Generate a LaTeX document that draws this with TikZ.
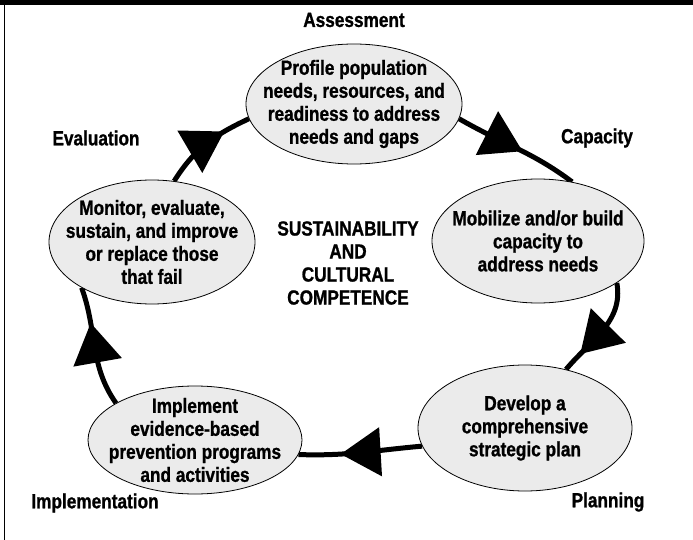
\documentclass[tikz,border=0pt]{standalone}
\usepackage{fontspec}
\setmainfont{Liberation Sans}[FakeStretch=0.84,FakeBold=1.0]
\usetikzlibrary{arrows.meta,decorations.markings,backgrounds,shapes.geometric}
\definecolor{bubblefill}{HTML}{EBEBEB}
\tikzset{
  txtfont/.style={font=\bfseries\fontsize{20.5}{23}\selectfont},
  bubble/.style={ellipse, draw=black, line width=0.8pt, fill=bubblefill,
    inner xsep=-30pt, inner ysep=-25pt, align=center, txtfont},
  stagelbl/.style={align=center, txtfont, inner sep=0pt},
  conn/.style={line width=5pt, postaction={decorate},
    decoration={markings, mark=at position #1 with {\arrow{Triangle[length=40pt,width=48pt]}}}},
  conn/.default=0.5
}
\begin{document}
\begin{tikzpicture}[x=1pt,y=-1pt]
\useasboundingbox (0,0) rectangle (693,540);
% frame
\fill[black] (0,0) rectangle (693,5.5);
\draw[line width=1.2pt] (4.5,0) -- (4.5,540);

% stage labels
\node[stagelbl] (lassess) at (354,20) {Assessment};
\node[stagelbl] (lcap) at (597,138) {Capacity};
\node[stagelbl] (leval) at (96,138) {Evaluation};
\node[stagelbl] (limpl) at (95,503) {Implementation};
\node[stagelbl] (lplan) at (608,502) {Planning};

% bubbles
\node[bubble, minimum width=216pt, minimum height=120pt] (A) at (354,104)
  {Profile population\\needs, resources, and\\readiness to address\\needs and gaps};
\node[bubble, minimum width=212pt, minimum height=124pt] (C) at (538,241)
  {Mobilize and/or build\\capacity to\\address needs};
\node[bubble, minimum width=206pt, minimum height=124pt] (E) at (152,242)
  {Monitor, evaluate,\\sustain, and improve\\or replace those\\that fail};
\node[bubble, minimum width=214pt, minimum height=108pt] (I) at (195,440)
  {Implement\\evidence-based\\prevention programs\\and activities};
\node[bubble, minimum width=214pt, minimum height=126pt] (P) at (525,428)
  {Develop a\\comprehensive\\strategic plan};

% centre text
\node[stagelbl] (centre) at (348,263) {SUSTAINABILITY\\AND\\CULTURAL\\COMPETENCE};

% connectors
\begin{scope}[on background layer]
\draw[conn=0.55] (A.-8) to[out=-30, in=143] (C.60);
\draw[conn=0.8] (C.-28) to[out=-80, in=50] (P.55);
\draw[conn=0.66] (P.190) to[out=185, in=-2] (I.-8);
\draw[conn=0.7] (I.155) to[out=125, in=-70] (E.-147);
\draw[conn=0.72] (E.70) to[out=58, in=205] (A.188);
\end{scope}
\end{tikzpicture}
\end{document}
